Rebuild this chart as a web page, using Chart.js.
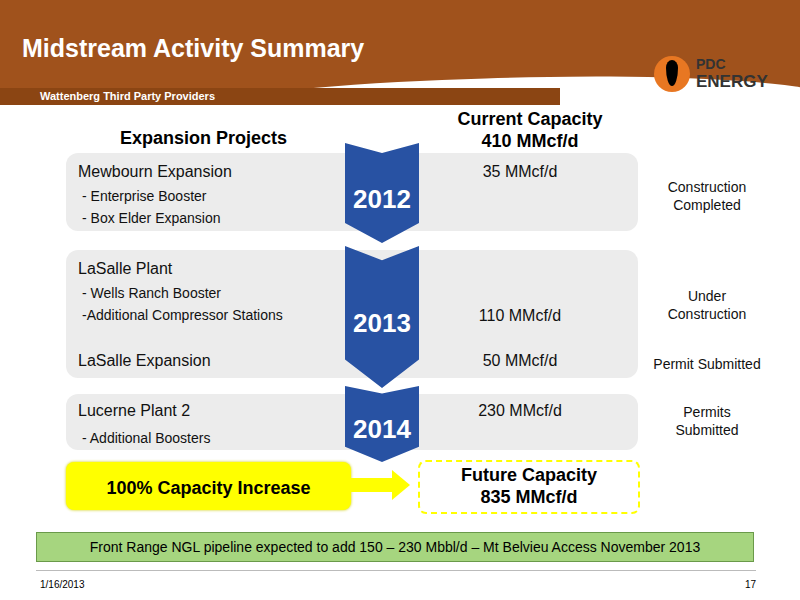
<!DOCTYPE html>
<html><head><meta charset="utf-8">
<script src="https://cdn.jsdelivr.net/npm/chart.js@4"></script>
<style>
body{margin:0;width:800px;height:600px;position:relative;font-family:Arial,"Liberation Sans",sans-serif;background:#fff;overflow:hidden}
.abs{position:absolute}
#hdr{left:0;top:0;width:800px;height:100px;background:#a0521c}
#wave{left:-50px;top:82px;width:900px;height:80px;background:#fff;border-radius:50% 50% 0 0/100% 60% 0 0;transform:rotate(-3deg)}
#title{left:22px;top:34px;color:#fff;font-size:25px;font-weight:bold}
#sub{left:0;top:88px;width:560px;height:17px;background:#8b4513;color:#fff;font-size:11px;font-weight:bold;padding-left:40px;line-height:17px;box-sizing:border-box}
.row{background:#ececec;border-radius:12px;left:66px;width:572px}
.t{font-size:16px;color:#111}
.s{font-size:14px;color:#111}
.c{color:#111;text-align:center}
.c14{font-size:14px}
.arrow{left:345px;width:74px;background:#2852a3;clip-path:polygon(0 0,50% 10%,100% 0,100% 80%,50% 100%,0 80%)}
.yr{color:#fff;font-size:26px;font-weight:bold;width:74px;text-align:center}
</style></head><body>
<div id="hdr" class="abs"></div>
<div id="wave" class="abs"></div>
<div id="title" class="abs">Midstream Activity Summary</div>
<div id="sub" class="abs">Wattenberg Third Party Providers</div>
<div class="abs" style="left:654px;top:56px;width:130px;height:40px">
 <div class="abs" style="left:0;top:0;width:36px;height:36px;border-radius:50%;background:#e87722"></div>
 <div class="abs" style="left:12px;top:4px;width:12px;height:26px;border-radius:50%/30% 30% 70% 70%;background:#000"></div>
 <div class="abs" style="left:42px;top:0;font-weight:bold;font-size:14px;line-height:16px;color:#333">PDC</div>
 <div class="abs" style="left:42px;top:17px;font-weight:bold;font-size:17px;line-height:18px;color:#333">ENERGY</div>
</div>
<div class="abs" style="left:120px;top:128px;font-size:18px;font-weight:bold">Expansion Projects</div>
<div id="curcap" class="abs" style="left:430px;top:108px;width:200px;text-align:center;font-size:18px;font-weight:bold;line-height:22px"></div>
<div id="rows"></div>
<div class="abs" style="left:66px;top:462px;width:285px;height:48px;background:#ffff00;border-radius:8px;box-shadow:0 0 3px #cc0"></div>
<div class="abs" style="left:66px;top:478px;width:285px;text-align:center;font-size:18px;font-weight:bold" id="incr"></div>
<div class="abs" style="left:350px;top:478px;width:45px;height:14px;background:#ffff00"></div>
<div class="abs" style="left:392px;top:470px;border-left:18px solid #ffff00;border-top:15px solid transparent;border-bottom:15px solid transparent"></div>
<div class="abs" style="left:418px;top:460px;width:218px;height:50px;border:2px dashed #ff0;border-radius:8px"></div>
<div id="futcap" class="abs" style="left:418px;top:464px;width:222px;text-align:center;font-size:18px;font-weight:bold;line-height:22px"></div>
<div class="abs" style="left:36px;top:532px;width:716px;height:28px;background:#a6d57f;border:1px solid #6a9a4a;text-align:center;line-height:28px;font-size:14px">Front Range NGL pipeline expected to add 150 – 230 Mbbl/d – Mt Belvieu Access November 2013</div>
<div class="abs" style="left:36px;top:570px;width:720px;border-top:1px solid #bbb"></div>
<div class="abs" style="left:40px;top:579px;font-size:10px">1/16/2013</div>
<div class="abs" style="left:745px;top:579px;font-size:10px">17</div>
<canvas id="cv" class="abs" style="left:0;top:0;width:1px;height:1px"></canvas>
<script>
const years = ['2012', '2013', '2014'];
const projects = ['Mewbourn Expansion', 'LaSalle Plant', 'LaSalle Expansion', 'Lucerne Plant 2'];
const capacities = [35, 110, 50, 230];
const currentCapacity = 410;
const futureCapacity = 835;
const statuses = ['Construction\nCompleted', 'Under\nConstruction', 'Permit Submitted', 'Permits\nSubmitted'];

const rows = document.getElementById('rows');
function add(html, css, cls) {
  const d = document.createElement('div');
  d.className = 'abs ' + (cls || '');
  d.style.cssText = css;
  d.innerHTML = html;
  rows.appendChild(d);
}
add('', 'top:153px;height:78px', 'row');
add('', 'top:250px;height:128px', 'row');
add('', 'top:394px;height:56px', 'row');
add('', 'top:143px;height:100px', 'arrow');
add('', 'top:246px;height:142px', 'arrow');
add('', 'top:386px;height:76px', 'arrow');
add(years[0], 'left:345px;top:184px', 'yr');
add(years[1], 'left:345px;top:308px', 'yr');
add(years[2], 'left:345px;top:414px', 'yr');
add(projects[0], 'left:78px;top:163px', 't');
add('- Enterprise Booster', 'left:82px;top:188px', 's');
add('- Box Elder Expansion', 'left:82px;top:210px', 's');
add(projects[1], 'left:78px;top:260px', 't');
add('- Wells Ranch Booster', 'left:82px;top:285px', 's');
add('-Additional Compressor Stations', 'left:82px;top:307px', 's');
add(projects[2], 'left:78px;top:352px', 't');
add(projects[3], 'left:78px;top:402px', 't');
add('- Additional Boosters', 'left:82px;top:430px', 's');
const capTops = [163, 307, 352, 402];
capacities.forEach((v, i) => add(v + ' MMcf/d', 'left:455px;top:' + capTops[i] + 'px;width:130px', 'c t'));
const stTops = [178, 287, 355, 403];
statuses.forEach((s, i) => add(s.replace('\n', '<br>'), 'left:640px;top:' + stTops[i] + 'px;width:134px;line-height:18px', 'c c14'));
document.getElementById('curcap').innerHTML = 'Current Capacity<br>' + currentCapacity + ' MMcf/d';
document.getElementById('futcap').innerHTML = 'Future Capacity<br>' + futureCapacity + ' MMcf/d';
document.getElementById('incr').textContent = Math.round((futureCapacity / currentCapacity - 1) * 100 / 10) * 10 + '% Capacity Increase';
new Chart(document.getElementById('cv'), {type: 'bar', data: {labels: projects, datasets: [{data: capacities}]},
  options: {animation: false, responsive: false, plugins: {legend: {display: false}}}});
</script>
</body></html>
